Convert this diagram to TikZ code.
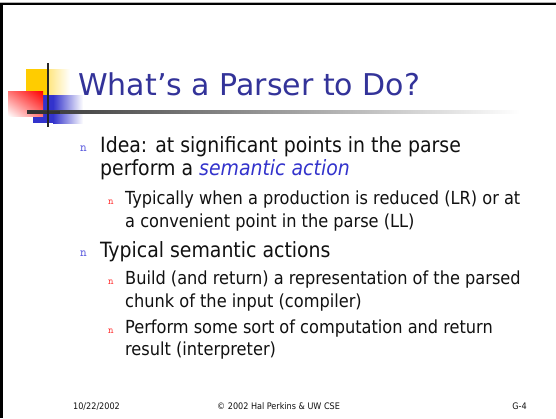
\documentclass[tikz,border=0pt]{standalone}
\usepackage{fontspec}
\usetikzlibrary{shadings}
\setmainfont{DejaVu Sans Condensed}
\newfontfamily\titlefont{DejaVu Sans}
\definecolor{titleblue}{HTML}{333399}
\definecolor{emblue}{HTML}{3333CC}
\definecolor{bulblue}{HTML}{5555DD}
\definecolor{bulred}{HTML}{FF3333}
\definecolor{logoyellow}{HTML}{FFCC00}
\definecolor{logored}{HTML}{FF0000}
\definecolor{logoblue}{HTML}{3333CC}
\definecolor{bodytext}{HTML}{111111}
\tikzset{
  slidetitle/.style={anchor=base west, inner sep=0pt, text=titleblue, font=\titlefont\fontsize{30}{36}\selectfont},
  lvlone/.style={anchor=base west, inner sep=0pt, text=bodytext, font=\fontsize{21}{24}\selectfont},
  lvltwo/.style={anchor=base west, inner sep=0pt, text=bodytext, font=\fontsize{18}{21}\selectfont},
  bulone/.style={anchor=base west, inner sep=0pt, text=bulblue, font=\ttfamily\fontsize{13}{14}\selectfont},
  bultwo/.style={anchor=base west, inner sep=0pt, text=bulred, font=\ttfamily\fontsize{10.5}{12}\selectfont},
  footer/.style={inner sep=0pt, text=bodytext, font=\fontsize{9}{10}\selectfont},
}
\begin{document}
\begin{tikzpicture}[x=1pt, y=-1pt]
\useasboundingbox (0,0) rectangle (556,418);
\fill[white] (0,0) rectangle (556,418);

% slide frame
\draw[gray!60, line width=1pt] (0,2.2) -- (556,2.2);
\draw[black, line width=2pt] (0,4) -- (556,4);
\draw[black, line width=2.6pt] (1.3,3) -- (1.3,418);

% logo blocks
\shade[left color=logoyellow, right color=white]
  (26,69) rectangle (70,95);
\fill[logoyellow] (26,69) rectangle (47,95);
\shade[left color=logoblue, right color=white]
  (53,95) rectangle (83,123);
\fill[logoblue] (33,95) rectangle (53.5,123);
\shade[upper right=logored, lower left=white, upper left=logored!55!white, lower right=logored!55!white]
  (8,91) rectangle (43,116);

% logo rules
\shade[left color=black!80, right color=white] (27,110.6) rectangle (520,113.6);
\fill[black!80] (27,110.6) rectangle (60,113.6);
\draw[black!85, line width=2pt] (48,63) -- (48,127);

% title
\node[slidetitle] (title) at (78,95) {What’s a Parser to Do?};

% first bullet
\node[bulone] (b1) at (80,151) {n};
\node[lvlone] (t1a) at (100,152) {Idea: at significant points in the parse};
\node[lvlone] (t1b) at (100,175) {perform a \textcolor{emblue}{\itshape semantic action}};
\node[bultwo] (b1s) at (108,204) {n};
\node[lvltwo] (t1c) at (125,204) {Typically when a production is reduced (LR) or at};
\node[lvltwo] (t1d) at (125,227) {a convenient point in the parse (LL)};

% second bullet
\node[bulone] (b2) at (80,256) {n};
\node[lvlone] (t2a) at (100,257) {Typical semantic actions};
\node[bultwo] (b2s) at (108,284) {n};
\node[lvltwo] (t2b) at (125,284) {Build (and return) a representation of the parsed};
\node[lvltwo] (t2c) at (125,307) {chunk of the input (compiler)};
\node[bultwo] (b3s) at (108,333) {n};
\node[lvltwo] (t2d) at (125,333) {Perform some sort of computation and return};
\node[lvltwo] (t2e) at (125,355) {result (interpreter)};

% footer
\node[footer, anchor=base west] (date) at (73,409) {10/22/2002};
\node[footer, anchor=base west] (copy) at (217,409) {© 2002 Hal Perkins \& UW CSE};
\node[footer, anchor=base east] (page) at (527,409) {G-4};
\end{tikzpicture}
\end{document}
